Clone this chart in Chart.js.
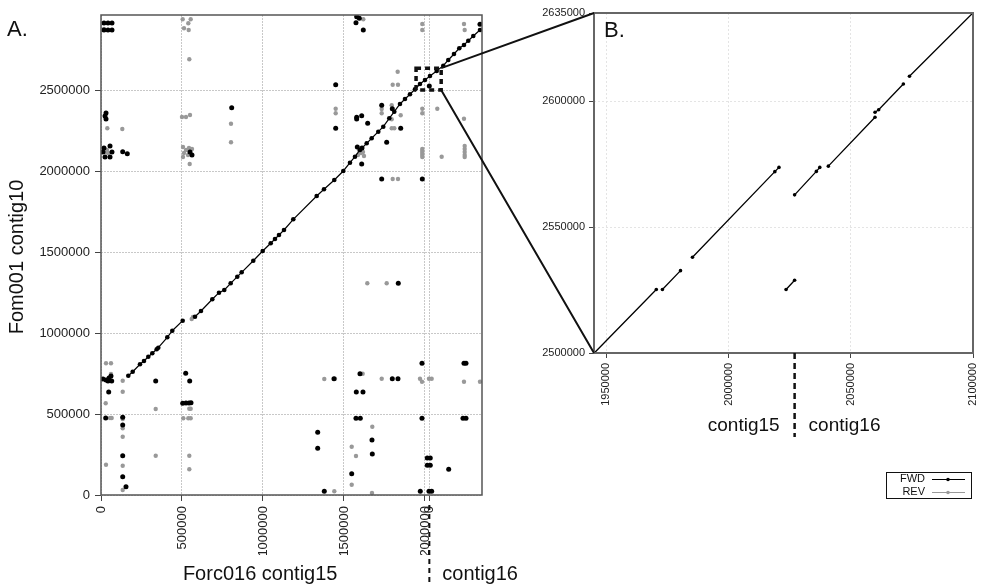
<!DOCTYPE html>
<html>
<head>
<meta charset="utf-8">
<script src="https://cdn.jsdelivr.net/npm/chart.js@4.4.0/dist/chart.umd.min.js"></script>
<style>
  html, body { margin: 0; padding: 0; background: #fff; }
  #wrap { position: relative; width: 981px; height: 585px; }
  #wrap canvas { position: absolute; left: 0; top: 0; }
</style>
</head>
<body>
<div id="wrap">
  <canvas id="chartA" width="981" height="585"></canvas>
  <canvas id="chartB" width="981" height="585"></canvas>
</div>
<script>
// main diagonal of panel A (forward alignments, joined), null = break
const diagX = [168500, 195700, 240700, 265400, 292000, 316700, 343800, 353700, 409300, 440100, 504300, null,
  580300, 617300, 687100, 728400, 761100, 800600, 841400, 868500, 940100, 998200, 1047600, 1074100, 1098800,
  1129700, 1187100, 1331500, 1376600, 1440200, 1495700, 1537100, 1567900, 1598800, 1640200, 1671000, 1711800,
  1742600, 1779700, 1810600, 1845700, 1876600, 1907500, 1938300, 1969200, 2000100, 2030900, 2072300, 2113000,
  2143900, 2179100, 2211800, 2240800, 2267300, 2298200, 2339600];
const diagY = [736400, 761100, 806800, 827200, 853700, 874700, 899400, 909300, 973500, 1014200, 1076000, null,
  1100600, 1135800, 1208100, 1248800, 1265500, 1306800, 1347600, 1374700, 1446300, 1506200, 1553700, 1580300, 1605000,
  1635800, 1701900, 1845700, 1887100, 1944500, 2000100, 2051300, 2088300, 2129700, 2171000, 2201900, 2242700,
  2273500, 2325400, 2366100, 2413600, 2444500, 2473500, 2504400, 2537100, 2561800, 2586500, 2617400, 2650100,
  2685300, 2722300, 2757500, 2777900, 2804400, 2833400, 2870400];

// scattered forward hits
const fwdX = [18500, 43200, 67900, 18500, 43200, 67900, 806800, 30900, 24700, 30900,
  18500, 55600, 67900, 24700, 55600, 12300, 134000, 162300, 549400, 561700,
  1578400, 1594500, 1574100, 1619200, 2339600, 1448800, 2026600, 1448800,
  1578400, 1609300, 1578400, 1646300, 1732800, 1798200, 1850100, 1763600,
  1582200, 1611200, 1609300, 1732800, 1983400, 1835200,
  12300, 30900, 49400, 61700, 43200, 66000, 47500, 29000,
  134000, 134000, 134000, 134000, 154300, 337700, 522900, 547500,
  504300, 524700, 543200, 555600, 1337700, 1337700, 1378400,
  1981500, 2240800, 2253200, 1438300, 1598800, 1798200, 1833400,
  1576000, 1617300, 1574100, 1600700, 1981500, 2234600, 2253200,
  1672900, 1674800, 1547600, 1971000, 2024700, 2041400,
  2014200, 2032700, 2014200, 2032700, 2146400];
const fwdY = [2913700, 2913700, 2913700, 2870400, 2870400, 2870400, 2390800, 2358100, 2339600, 2321000,
  2142000, 2154400, 2117300, 2086500, 2086500, 2117300, 2119200, 2106900, 2117300, 2098800,
  2952500, 2942600, 2915500, 2870400, 2905600, 2532800, 2524800, 2263600,
  2331600, 2341400, 2321000, 2294500, 2405600, 2384600, 2263600, 2177200,
  2148200, 2142000, 2043300, 1950700, 1950700, 1306800,
  716100, 709900, 722200, 734600, 703700, 703700, 635800, 475300,
  479600, 432100, 242600, 113000, 51200, 703700, 751300, 703700,
  566100, 567900, 567900, 569800, 387000, 288300, 22800,
  813000, 813000, 813000, 717900, 748800, 717900, 717900,
  635800, 635800, 473500, 473500, 473500, 473500, 473500,
  339500, 253100, 131500, 22800, 22800, 22800,
  228400, 228400, 183300, 183300, 158600];

// reverse hits
const revX = [18500, 38900, 131500, 802500, 802500, 37000, 43200, 24700,
  500000, 524700, 549400, 506200, 524700, 543200, 512400, 537100, 506200, 561700, 547500,
  504300, 553700, 538900, 512400, 541400, 545100,
  1619200, 1983400, 1983400, 2240800, 2245100, 1831500, 1800700, 1833400,
  1448800, 1448800, 1732800, 1732800, 1794500, 1850100, 1794500, 1794500, 1810600,
  1983400, 1983400, 2076000, 2240800,
  1592600, 1617300, 1586400, 1623500, 1605000,
  1983400, 1983400, 1983400, 1983400, 1983400, 2103100,
  2245100, 2245100, 2245100, 2245100, 2245100,
  1800700, 1833400, 1643900, 1763600, 559900, 567900,
  30900, 61700, 61700, 29000, 55600, 66000, 30900,
  134000, 134000, 134000, 134000, 134000, 134000, 134000,
  337700, 337700, 545100, 553700, 508000, 538900, 553700, 545100, 545100,
  1378400, 1444500, 1615400, 1732800,
  1969200, 1981500, 2024700, 2041400, 2240800, 2339600,
  1674800, 1547600, 1574100, 1547600, 1440200, 1672900];
const revY = [2876600, 2263600, 2259300, 2292000, 2177200, 2129700, 2111200, 2117300,
  2333400, 2333400, 2345700, 2148200, 2129700, 2142000, 2111200, 2098800, 2086500, 2135900, 2043300,
  2936500, 2936500, 2911800, 2880900, 2870400, 2689600,
  2936500, 2907500, 2870400, 2907500, 2870400, 2613000, 2532800, 2532800,
  2384600, 2356200, 2382800, 2356200, 2405600, 2343900, 2319200, 2263600, 2263600,
  2384600, 2356200, 2384600, 2322900,
  2129700, 2117300, 2098800, 2092700, 2111200,
  2135900, 2123500, 2111200, 2098800, 2086500, 2088300,
  2154400, 2135900, 2117300, 2098800, 2086500,
  1950700, 1950700, 1306800, 1306800, 1086400, 1098800,
  813000, 813000, 746900, 566100, 475300, 475300, 187000,
  705600, 637700, 469100, 411700, 359900, 180900, 30900,
  530900, 242600, 532700, 532700, 473500, 473500, 473500, 242600, 158600,
  716100, 717900, 748800, 717900,
  717900, 699400, 717900, 717900, 699400, 699400,
  421600, 298200, 240700, 63600, 22800, 12300];

// panel B: forward alignments in the zoomed window, null = break
const zoomX = [1942000, 1970400, null, 1972900, 1980300, null, 1985200, 2018900, 2020600, null,
  2023500, 2027000, null, 2027000, 2035900, 2037300, null, 2040800, 2059900, null,
  2059900, 2061400, 2071500, null, 2074000, 2102000];
const zoomY = [2497000, 2525200, null, 2525200, 2532700, null, 2538000, 2572000, 2573700, null,
  2525200, 2528900, null, 2562800, 2572100, 2573700, null, 2574200, 2593600, null,
  2595600, 2596600, 2606800, null, 2609900, 2637000];

const xTicksA = [0, 500000, 1000000, 1500000, 2000000, 2027000];
const xTickLabelsA = ['0', '500000', '1000000', '1500000', '2000000', '0'];
const yTicksA = [0, 500000, 1000000, 1500000, 2000000, 2500000];
const xTicksB = [1950000, 2000000, 2050000, 2100000];
const yTicksB = [2500000, 2550000, 2600000, 2635000];
const zoomRangeX = [1944900, 2100000];
const zoomRangeY = [2500000, 2635000];
const contigBreak = 2027000;

const FONT = '"Liberation Sans", Arial, sans-serif';

function pairs(xs, ys) {
  return xs.map((x, i) => ({ x: x, y: ys[i] }));
}

function fixedTicks(list) {
  return s => { s.ticks = list.map(v => ({ value: v })); };
}

// fixed axis sizes so the plot areas land where the figure has them
function fitX(h) {
  return s => { s.height = h; s.paddingLeft = 0; s.paddingRight = 0; };
}
function fitY(w) {
  return s => { s.width = w; s.paddingTop = 0; s.paddingBottom = 0; };
}

const panelA = {
  id: 'panelA',
  afterDraw(chart) {
    const { ctx, chartArea: a, scales: { x, y } } = chart;
    ctx.save();
    // plot frame
    ctx.strokeStyle = '#555';
    ctx.lineWidth = 1.5;
    ctx.strokeRect(a.left, a.top, a.right - a.left, a.bottom - a.top);

    // dashed box around the zoomed window
    const bx1 = x.getPixelForValue(zoomRangeX[0]);
    const bx2 = x.getPixelForValue(zoomRangeX[1]);
    const by1 = y.getPixelForValue(zoomRangeY[1]);
    const by2 = y.getPixelForValue(zoomRangeY[0]);
    ctx.strokeStyle = '#111';
    ctx.lineWidth = 3.5;
    ctx.setLineDash([5, 4]);
    ctx.strokeRect(bx1, by1, bx2 - bx1, by2 - by1);

    // contig break marker below the axis
    const cb = x.getPixelForValue(contigBreak);
    ctx.lineWidth = 2;
    ctx.setLineDash([5, 4]);
    ctx.beginPath();
    ctx.moveTo(cb, a.bottom + 10);
    ctx.lineTo(cb, chart.height);
    ctx.stroke();
    ctx.setLineDash([]);

    ctx.fillStyle = '#111';
    ctx.font = '22px ' + FONT;
    ctx.textAlign = 'left';
    ctx.textBaseline = 'alphabetic';
    ctx.fillText('A.', 7, 36);

    ctx.font = '20px ' + FONT;
    ctx.textBaseline = 'middle';
    ctx.textAlign = 'center';
    ctx.fillText('Forc016 contig15', (x.getPixelForValue(0) + cb) / 2 - 5, 574);
    ctx.textAlign = 'left';
    ctx.fillText('contig16', cb + 13, 574);

    ctx.translate(17, 257);
    ctx.rotate(-Math.PI / 2);
    ctx.textAlign = 'center';
    ctx.fillText('Fom001 contig10', 0, 0);
    ctx.restore();
  }
};

const chartA = new Chart(document.getElementById('chartA'), {
  type: 'scatter',
  data: {
    datasets: [
      { label: 'FWD', data: pairs(diagX, diagY), showLine: true, spanGaps: false,
        borderColor: '#000', backgroundColor: '#000', borderWidth: 1.2, pointRadius: 2.3, pointBorderWidth: 0 },
      { label: 'FWD hits', data: pairs(fwdX, fwdY),
        borderColor: '#000', backgroundColor: '#000', pointRadius: 2.5, pointBorderWidth: 0 },
      { label: 'REV', data: pairs(revX, revY),
        borderColor: '#999', backgroundColor: '#999', pointRadius: 2.2, pointBorderWidth: 0 }
    ]
  },
  options: {
    responsive: false,
    animation: false,
    events: [],
    layout: { padding: { left: 11, top: 15, right: 499, bottom: 30 } },
    plugins: { legend: { display: false }, tooltip: { enabled: false } },
    scales: {
      x: {
        type: 'linear', min: 0, max: 2352000,
        afterBuildTicks: fixedTicks(xTicksA),
        afterFit: fitX(60),
        ticks: { autoSkip: false, minRotation: 90, maxRotation: 90, padding: 5, color: '#222',
          font: { family: FONT, size: 13 }, callback: (v, i) => xTickLabelsA[i] },
        grid: { color: '#c8c8c8', tickColor: '#444', tickLength: 6 },
        border: { display: false, dash: [2, 1] }
      },
      y: {
        type: 'linear', min: 0, max: 2963000,
        afterBuildTicks: fixedTicks(yTicksA),
        afterFit: fitY(90),
        ticks: { autoSkip: false, padding: 5, color: '#222',
          font: { family: FONT, size: 13 }, callback: v => String(v) },
        grid: { color: '#c8c8c8', tickColor: '#444', tickLength: 6 },
        border: { display: false, dash: [2, 1] }
      }
    }
  },
  plugins: [panelA]
});

const panelB = {
  id: 'panelB',
  afterDraw(chart) {
    const { ctx, chartArea: a, scales: { x } } = chart;
    ctx.save();
    ctx.strokeStyle = '#666';
    ctx.lineWidth = 2;
    ctx.strokeRect(a.left, a.top, a.right - a.left, a.bottom - a.top);

    // connectors from the dashed box in panel A
    const sa = chartA.scales;
    const ax = sa.x.getPixelForValue(zoomRangeX[1]);
    ctx.strokeStyle = '#111';
    ctx.lineWidth = 2;
    ctx.beginPath();
    ctx.moveTo(ax, sa.y.getPixelForValue(zoomRangeY[1]));
    ctx.lineTo(a.left, a.top);
    ctx.moveTo(ax, sa.y.getPixelForValue(zoomRangeY[0]));
    ctx.lineTo(a.left, a.bottom);
    ctx.stroke();

    // contig break
    const cb = x.getPixelForValue(contigBreak);
    ctx.lineWidth = 2.5;
    ctx.setLineDash([6, 4]);
    ctx.beginPath();
    ctx.moveTo(cb, a.bottom);
    ctx.lineTo(cb, a.bottom + 84);
    ctx.stroke();
    ctx.setLineDash([]);

    ctx.fillStyle = '#111';
    ctx.font = '22px ' + FONT;
    ctx.textAlign = 'left';
    ctx.textBaseline = 'alphabetic';
    ctx.fillText('B.', a.left + 10, 37);

    ctx.font = '19px ' + FONT;
    ctx.textBaseline = 'middle';
    ctx.textAlign = 'right';
    ctx.fillText('contig15', cb - 15, a.bottom + 73);
    ctx.textAlign = 'left';
    ctx.fillText('contig16', cb + 14, a.bottom + 73);

    // legend
    const lx = 886, ly = 472;
    ctx.strokeStyle = '#111';
    ctx.lineWidth = 1;
    ctx.strokeRect(lx + 0.5, ly + 0.5, 85, 26);
    ctx.font = '11px ' + FONT;
    ctx.textAlign = 'right';
    const rows = [['FWD', '#000', 7], ['REV', '#999', 20]];
    rows.forEach(([name, col, dy]) => {
      ctx.fillStyle = '#111';
      ctx.fillText(name, lx + 39, ly + dy);
      ctx.strokeStyle = col;
      ctx.beginPath();
      ctx.moveTo(lx + 46, ly + dy + 0.5);
      ctx.lineTo(lx + 79, ly + dy + 0.5);
      ctx.stroke();
      ctx.fillStyle = col;
      ctx.beginPath();
      ctx.arc(lx + 62, ly + dy + 0.5, 1.8, 0, Math.PI * 2);
      ctx.fill();
    });
    ctx.restore();
  }
};

new Chart(document.getElementById('chartB'), {
  type: 'scatter',
  data: {
    datasets: [
      { label: 'FWD', data: pairs(zoomX, zoomY), showLine: true, spanGaps: false,
        borderColor: '#000', backgroundColor: '#000', borderWidth: 1.3, pointRadius: 1.8, pointBorderWidth: 0 }
    ]
  },
  options: {
    responsive: false,
    animation: false,
    events: [],
    layout: { padding: { left: 524, top: 13, right: 8, bottom: 172 } },
    plugins: { legend: { display: false }, tooltip: { enabled: false } },
    scales: {
      x: {
        type: 'linear', min: zoomRangeX[0], max: zoomRangeX[1],
        afterBuildTicks: fixedTicks(xTicksB),
        afterFit: fitX(60),
        ticks: { autoSkip: false, minRotation: 90, maxRotation: 90, padding: 5, color: '#222',
          font: { family: FONT, size: 11 }, callback: v => String(v) },
        grid: { color: '#e4e4e4', tickColor: '#444', tickLength: 5 },
        border: { display: false, dash: [2, 2] }
      },
      y: {
        type: 'linear', min: zoomRangeY[0], max: zoomRangeY[1],
        afterBuildTicks: fixedTicks(yTicksB),
        afterFit: fitY(70),
        ticks: { autoSkip: false, padding: 4, color: '#222',
          font: { family: FONT, size: 11 }, callback: v => String(v) },
        grid: { color: '#e4e4e4', tickColor: '#444', tickLength: 5 },
        border: { display: false, dash: [2, 2] }
      }
    }
  },
  plugins: [panelB]
});
</script>
</body>
</html>
